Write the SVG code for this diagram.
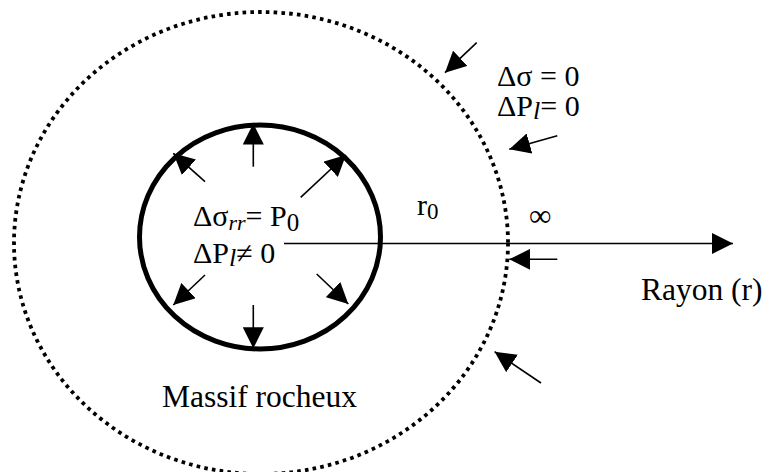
<svg xmlns="http://www.w3.org/2000/svg" width="764" height="472" viewBox="0 0 764 472">
<defs>
<marker id="ah" markerWidth="21" markerHeight="21" viewBox="0 0 21 21" refX="21" refY="10.5" orient="auto" markerUnits="userSpaceOnUse">
<path d="M0,0 L21,10.5 L0,21 Z" fill="#000"/>
</marker>
</defs>
<style>
.t{font-family:"Liberation Serif","Times New Roman",serif;fill:#000}
.m{font-size:30px}
.l{font-size:31.5px}
.a{stroke:#000;stroke-width:1.6;fill:none;marker-end:url(#ah)}
</style>
<rect width="764" height="472" fill="#fff"/>
<g id="outer-boundary">
<ellipse cx="261" cy="243" rx="247" ry="231" fill="none" stroke="#000" stroke-width="3.8" stroke-dasharray="3.6 4.2"/>
</g>
<g id="cavity">
<ellipse cx="260" cy="237" rx="120.5" ry="112" fill="none" stroke="#000" stroke-width="5"/>
</g>
<g id="connectors">
<line class="a" x1="284" y1="243.5" x2="733" y2="243.5"/>
<line class="a" x1="253.3" y1="166.7" x2="253.3" y2="123.5"/>
<line class="a" x1="205" y1="181.7" x2="173.3" y2="153.3"/>
<line class="a" x1="300.7" y1="197.3" x2="346" y2="155"/>
<line class="a" x1="205" y1="275" x2="173.3" y2="305"/>
<line class="a" x1="316.7" y1="274" x2="348.3" y2="304"/>
<line class="a" x1="253.3" y1="305" x2="253.3" y2="348.3"/>
<line class="a" x1="476.7" y1="42.7" x2="445" y2="72.7"/>
<line class="a" x1="557.3" y1="135.7" x2="509.3" y2="149.3"/>
<line class="a" x1="557.3" y1="259.3" x2="509.3" y2="259.3"/>
<line class="a" x1="541" y1="383" x2="494.6" y2="351.7"/>
</g>
<g id="label-cavity">
<text class="t m" x="193" y="226">Δσ<tspan font-style="italic" font-size="22" dy="4">rr</tspan><tspan dy="-4">= P</tspan><tspan font-size="25" dy="5">0</tspan></text>
<text class="t m" x="193" y="262.7">ΔP<tspan font-style="italic" font-size="26" dy="3">l</tspan><tspan dy="-3">≠ 0</tspan></text>
</g>
<g id="label-boundary">
<text class="t m" x="497" y="86">Δσ = 0</text>
<text class="t m" x="497" y="116">ΔP<tspan font-style="italic" font-size="26" dy="3">l</tspan><tspan dy="-3">= 0</tspan></text>
</g>
<g id="label-r0">
<text class="t m" x="417" y="215">r<tspan font-size="23" dy="4">0</tspan></text>
</g>
<g id="label-inf">
<text class="t l" x="529" y="226">∞</text>
</g>
<g id="label-rayon">
<text class="t l" x="641" y="300">Rayon (r)</text>
</g>
<g id="label-massif">
<text class="t l" x="162" y="407">Massif rocheux</text>
</g>
</svg>
